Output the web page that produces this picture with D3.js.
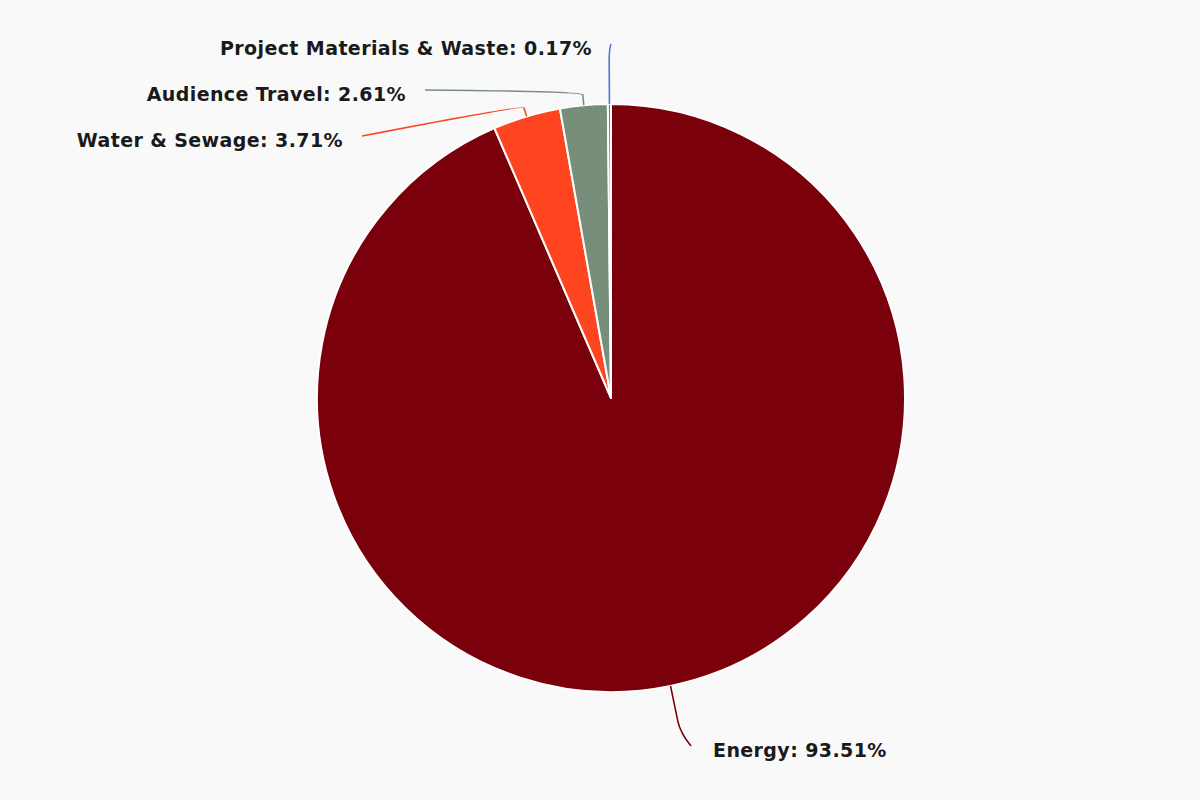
<!DOCTYPE html>
<html>
<head>
<meta charset="utf-8">
<script src="https://cdn.jsdelivr.net/npm/d3@7"></script>
<style>
  html, body { margin: 0; padding: 0; background: #f9f9f9; }
  svg { display: block; }
  .label { font-family: "DejaVu Sans", sans-serif; font-weight: bold; font-size: 19px; letter-spacing: 0.4px; fill: #1a1a1a; }
</style>
</head>
<body>
<svg id="chart" width="1200" height="800"></svg>
<script>
// Slice data (percent of total)
var categories = ["Energy", "Water & Sewage", "Audience Travel", "Project Materials & Waste"];
var values = [93.51, 3.71, 2.61, 0.17];
var colors = ["#7a000b", "#ff4520", "#778f7a", "#4f74d6"];

// Label placement (layout only)
var labelX = [713, 343, 406, 592];
var labelY = [750, 140, 94, 48];
var labelAnchor = ["start", "end", "end", "end"];
var connectorExt = [48, 12, 14, 56];

var width = 1200, height = 800;
var cx = 611, cy = 398, radius = 294;

var svg = d3.select("#chart");
var g = svg.append("g").attr("transform", "translate(" + cx + "," + cy + ")");

var pie = d3.pie().sort(null).value(d => d);
var arcs = pie(values);

var arc = d3.arc().innerRadius(0).outerRadius(radius);

// Draw the slices
g.selectAll("path.slice")
    .data(arcs)
    .enter()
    .append("path")
    .attr("class", "slice")
    .attr("d", arc)
    .attr("fill", (d, i) => colors[i])
    .attr("stroke", "#ffffff")
    .attr("stroke-width", 2)
    .attr("stroke-linejoin", "round");

// Point on a circle of radius r at angle a (d3 angles: 0 at top, clockwise)
function polar(a, r) {
    return [r * Math.sin(a), -r * Math.cos(a)];
}

// Connector lines
g.selectAll("path.connector")
    .data(arcs)
    .enter()
    .append("path")
    .attr("class", "connector")
    .attr("fill", "none")
    .attr("stroke", (d, i) => colors[i])
    .attr("stroke-width", 1.6)
    .attr("d", function (d, i) {
        var mid = (d.startAngle + d.endAngle) / 2;
        var p0 = polar(mid, radius);
        var p1 = polar(mid, radius + connectorExt[i]);
        var gap = labelAnchor[i] === "start" ? -22 : 19;
        var p2 = [labelX[i] + gap - cx, labelY[i] - 4 - cy];
        // shorten straight segment before the rounded corner
        var t = 0.75;
        var pa = [p0[0] + (p1[0] - p0[0]) * t, p0[1] + (p1[1] - p0[1]) * t];
        return "M" + p0 + "L" + pa + "Q" + p1 + " " + p2;
    });

// Labels
svg.selectAll("text.label")
    .data(arcs)
    .enter()
    .append("text")
    .attr("class", "label")
    .attr("x", (d, i) => labelX[i])
    .attr("y", (d, i) => labelY[i])
    .attr("dy", "0.35em")
    .attr("text-anchor", (d, i) => labelAnchor[i])
    .text((d, i) => categories[i] + ": " + values[i].toFixed(2) + "%");
</script>
</body>
</html>
